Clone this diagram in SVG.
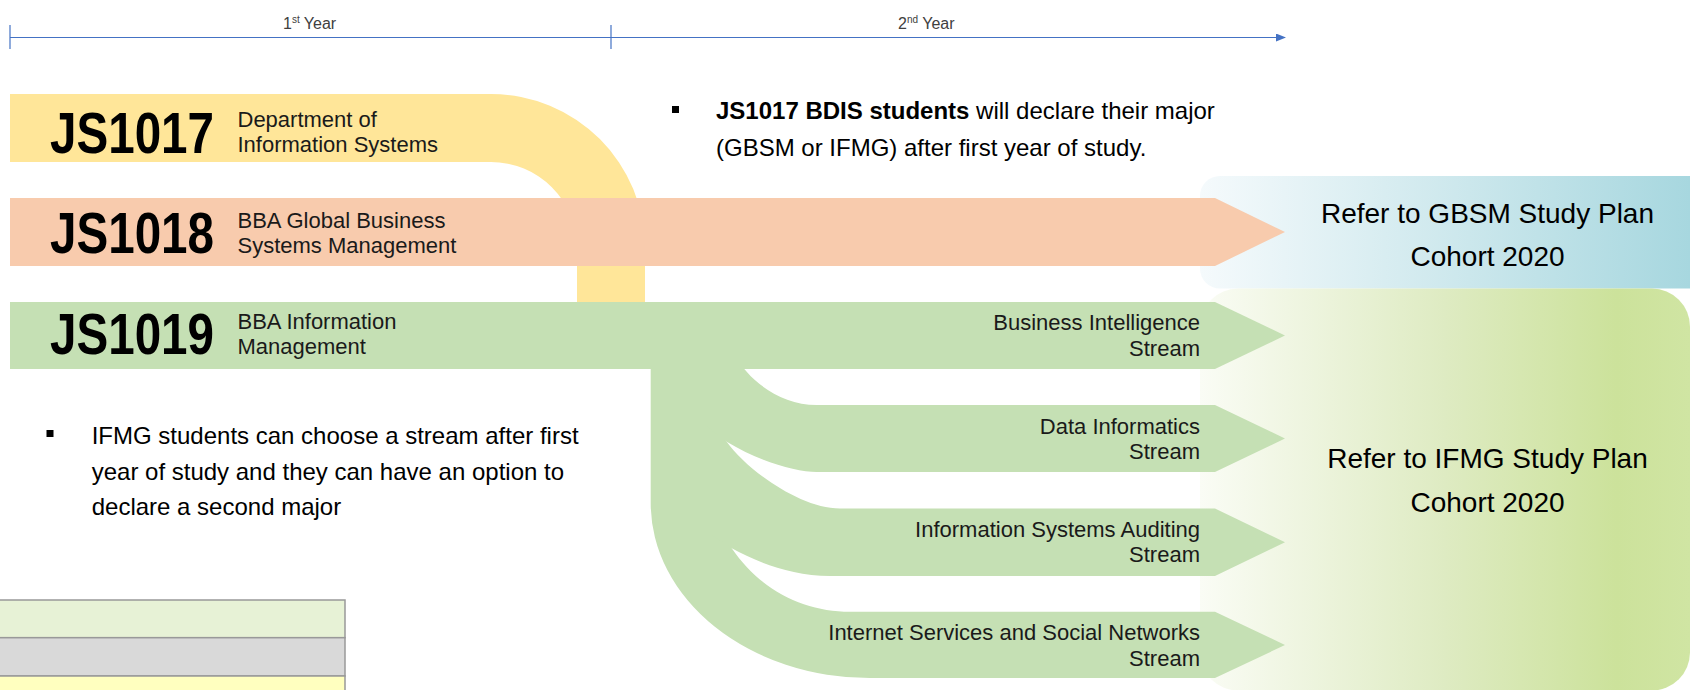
<svg xmlns="http://www.w3.org/2000/svg" width="1690" height="690" viewBox="0 0 1690 690">
<defs>
<style>
.t{font-family:"Liberation Sans",Arial,sans-serif;fill:#000}
.yr{font-size:16px;fill:#404040}
.code{font-size:57px;font-weight:bold}
.lbl{font-size:22px;fill:#1a1a1a}
.st{font-size:22px;fill:#1a1a1a;text-anchor:end}
.note{font-size:24px}
.big{font-size:28px;text-anchor:middle}
.tick{stroke:#4472C4;stroke-width:1.2;fill:none}
.g{fill:#C5E0B4}
.cell{stroke:#999999;stroke-width:1.5}
</style>
<marker id="ah" markerWidth="10" markerHeight="8" refX="9" refY="4" orient="auto" markerUnits="userSpaceOnUse">
<path d="M0,0 L10,4 L0,8 Z" fill="#4472C4"/>
</marker>
<linearGradient id="gb" gradientUnits="userSpaceOnUse" x1="1200" y1="0" x2="1690" y2="0">
<stop offset="0" stop-color="#F5FAFC"/>
<stop offset="0.55" stop-color="#CBE7EC"/>
<stop offset="1" stop-color="#A7D7DF"/>
</linearGradient>
<linearGradient id="gi" gradientUnits="userSpaceOnUse" x1="1200" y1="0" x2="1690" y2="0">
<stop offset="0" stop-color="#FAFCF5"/>
<stop offset="0.5" stop-color="#DEEBC2"/>
<stop offset="0.85" stop-color="#CCE29B"/>
<stop offset="1" stop-color="#D0E5A3"/>
</linearGradient>
</defs>

<g id="connectors">
<line class="tick" x1="10" y1="37.5" x2="1285" y2="37.5" marker-end="url(#ah)"/>
<line class="tick" x1="10" y1="25" x2="10" y2="49"/>
<line class="tick" x1="611" y1="25" x2="611" y2="49"/>
</g>

<g id="year-labels">
<text class="t yr" x="283" y="28.5">1<tspan font-size="10" dy="-6">st</tspan><tspan dy="6"> Year</tspan></text>
<text class="t yr" x="898" y="28.5">2<tspan font-size="10" dy="-6">nd</tspan><tspan dy="6"> Year</tspan></text>
</g>

<g id="box-gbsm">
<rect x="1200" y="176" width="540" height="112.5" rx="20" fill="url(#gb)"/>
<text class="t big" x="1487.5" y="222.5">Refer to GBSM Study Plan</text>
<text class="t big" x="1487.5" y="265.5">Cohort 2020</text>
</g>

<g id="box-ifmg">
<rect x="1200" y="288.5" width="490" height="402" rx="38" fill="url(#gi)"/>
<text class="t big" x="1487.5" y="468.3">Refer to IFMG Study Plan</text>
<text class="t big" x="1487.5" y="511.6">Cohort 2020</text>
</g>

<g id="node-js1017">
<path d="M10,94 H491 A154,154 0 0 1 645,248 V330 H577 V248 A86,86 0 0 0 491,162 H10 Z" fill="#FFE699"/>
<text class="t code" x="50" y="152.7" textLength="164" lengthAdjust="spacingAndGlyphs">JS1017</text>
<text class="t lbl" x="237.5" y="126.7">Department of</text>
<text class="t lbl" x="237.5" y="151.7">Information Systems</text>
</g>

<g id="node-js1018">
<path d="M10,198 H1215 L1285,232 L1215,266 H10 Z" fill="#F8CBAD"/>
<text class="t code" x="50" y="253.3" textLength="164" lengthAdjust="spacingAndGlyphs">JS1018</text>
<text class="t lbl" x="237.5" y="227.7">BBA Global Business</text>
<text class="t lbl" x="237.5" y="253.3">Systems Management</text>
</g>

<g id="node-js1019">
<path class="g" d="M650.7,365 V503 A219,175 0 0 0 869.7,678 H1215 L1285,645 L1215,611.7 H850 C805,611.7 761.7,591.8 731.7,548.3 L725,530 V365 Z"/>
<path class="g" d="M712,422 L726.7,441.7 C746.7,469.7 800,508.5 840,508.5 H1215 L1285,542.3 L1215,576 H830 C790,576 755,561 731.7,548.3 L712,535 Z"/>
<path class="g" d="M735,355 C748,380 780,405 816.7,405 H1215 L1285,438.5 L1215,472 H816.7 C796.7,472 760,462 726.7,441.7 L705,425 V355 Z"/>
<path class="g" d="M10,302 H1215 L1285,335.5 L1215,369 H10 Z"/>
<text class="t code" x="50" y="354" textLength="164" lengthAdjust="spacingAndGlyphs">JS1019</text>
<text class="t lbl" x="237.5" y="329.3">BBA Information</text>
<text class="t lbl" x="237.5" y="354">Management</text>
</g>

<g id="stream-bi">
<text class="t st" x="1200" y="330">Business Intelligence</text>
<text class="t st" x="1200" y="355.7">Stream</text>
</g>
<g id="stream-di">
<text class="t st" x="1200" y="434.3">Data Informatics</text>
<text class="t st" x="1200" y="459.3">Stream</text>
</g>
<g id="stream-isa">
<text class="t st" x="1200" y="537.3">Information Systems Auditing</text>
<text class="t st" x="1200" y="562.3">Stream</text>
</g>
<g id="stream-issn">
<text class="t st" x="1200" y="640">Internet Services and Social Networks</text>
<text class="t st" x="1200" y="665.7">Stream</text>
</g>

<g id="note-bdis">
<rect x="672" y="106" width="7" height="7" fill="#000"/>
<text class="t note" x="716" y="119"><tspan font-weight="bold">JS1017 BDIS students</tspan> will declare their major</text>
<text class="t note" x="716" y="155.5">(GBSM or IFMG) after first year of study.</text>
</g>

<g id="note-ifmg">
<rect x="46.5" y="430" width="7" height="7" fill="#000"/>
<text class="t note" x="91.7" y="444">IFMG students can choose a stream after first</text>
<text class="t note" x="91.7" y="479.5">year of study and they can have an option to</text>
<text class="t note" x="91.7" y="515">declare a second major</text>
</g>

<g id="legend-table">
<rect class="cell" x="-5" y="600" width="350" height="37.7" fill="#E7F2D6"/>
<rect class="cell" x="-5" y="637.7" width="350" height="38.3" fill="#D9D9D9"/>
<rect class="cell" x="-5" y="676" width="350" height="30" fill="#FFFFBF"/>
</g>
</svg>
